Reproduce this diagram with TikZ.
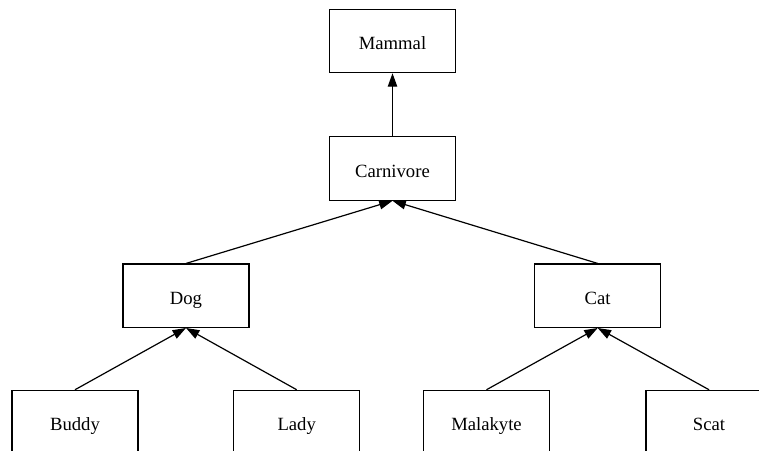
\documentclass[tikz,border=0pt]{standalone}
\usepackage{fontspec}
\setmainfont{Liberation Serif}
\usetikzlibrary{arrows.meta}
\begin{document}
\begin{tikzpicture}[x=0.75pt,y=-0.75pt,
  box/.style={draw=black,line width=0.9pt,rectangle,minimum width=94.5pt,minimum height=47.5pt,inner sep=0pt,text height=13pt,text depth=0pt,font=\fontsize{14}{17}\selectfont},
  isa/.style={line width=0.9pt,-{Triangle[length=10pt,width=7pt]}}]
\useasboundingbox (0,0) rectangle (759,450);
\clip (0,0) rectangle (759,450);
\node[box] (mammal) at (392.5,41) {Mammal};
\node[box] (carnivore) at (392.5,168.5) {Carnivore};
\node[box] (dog) at (186,295.7) {Dog};
\node[box] (cat) at (597.7,295.7) {Cat};
\node[box] (buddy) at (75,422) {Buddy};
\node[box] (lady) at (296.7,422) {Lady};
\node[box] (malakyte) at (486.5,422) {Malakyte};
\node[box] (scat) at (709,422) {Scat};
\draw[isa] (carnivore.north) -- (mammal.south);
\draw[isa] (dog.north) -- (carnivore.south);
\draw[isa] (cat.north) -- (carnivore.south);
\draw[isa] (buddy.north) -- (dog.south);
\draw[isa] (lady.north) -- (dog.south);
\draw[isa] (malakyte.north) -- (cat.south);
\draw[isa] (scat.north) -- (cat.south);
\end{tikzpicture}
\end{document}
